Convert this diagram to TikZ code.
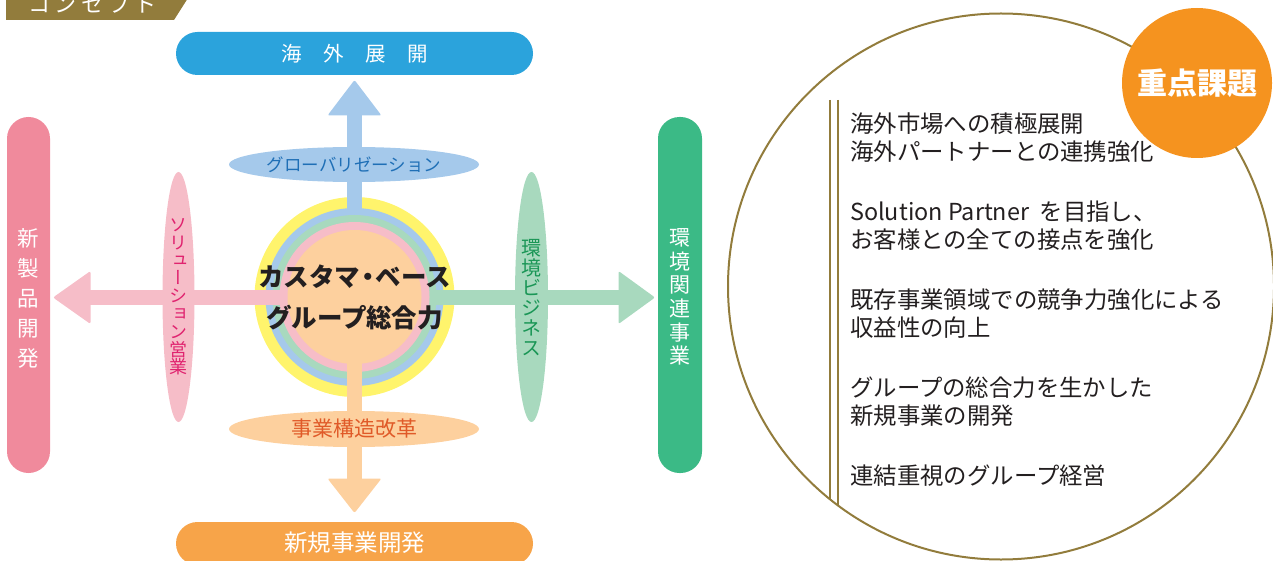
\documentclass[tikz,border=0pt]{standalone}
\usepackage{fontspec}
\setmainfont{Noto Sans CJK JP}
\newfontfamily\jp{Noto Sans CJK JP}
\newfontfamily\jpv[RawFeature=+vert]{Noto Sans CJK JP}
\usetikzlibrary{shapes.geometric}
\definecolor{olivec}{HTML}{927C3C}
\definecolor{ringY}{HTML}{FFF46C}
\definecolor{ringB}{HTML}{A5C9EB}
\definecolor{ringG}{HTML}{A8D9BE}
\definecolor{ringP}{HTML}{F6BDC8}
\definecolor{ringO}{HTML}{FDD09E}
\definecolor{barB}{HTML}{2BA3DC}
\definecolor{barO}{HTML}{F7A449}
\definecolor{barP}{HTML}{F08A9C}
\definecolor{barG}{HTML}{3BBA86}
\definecolor{circO}{HTML}{F5931F}
\definecolor{txtB}{HTML}{1F6FB6}
\definecolor{txtO}{HTML}{E05A28}
\definecolor{txtP}{HTML}{E0236F}
\definecolor{txtG}{HTML}{1A9656}
\definecolor{txtK}{HTML}{231F20}
\newcommand\fs[2]{\fontsize{#1}{#2}\selectfont}
\begin{document}
\begin{tikzpicture}[x=1pt,y=-1pt,
  pill/.style={rounded corners=21.5pt, inner sep=0pt, text=white},
  oval/.style={ellipse, inner sep=0pt},
  vtext/.style={align=center, inner sep=0pt},
  item/.style={anchor=west, inner sep=0pt, text=txtK, font=\jp\fs{23.4}{28}},
]
\useasboundingbox (0,0) rectangle (1273,561);
\clip (0,0) rectangle (1273,561);

% header tab
\fill[olivec] (6,-2) -- (188,-2) -- (174,20) -- (6,20) -- cycle;
\node[anchor=base, text=white, inner sep=0pt, font=\jp\fs{22}{22}] (tab) at (92.5,13)
  {コ\hspace{4.7pt}ン\hspace{4.7pt}セ\hspace{4.7pt}プ\hspace{4.7pt}ト};

% bars
\node[pill, fill=barB, minimum width=357pt, minimum height=43pt, font=\jp\fs{20.5}{20.5}] (kaigai) at (354.5,53.5)
  {海\hspace{21.5pt}外\hspace{21.5pt}展\hspace{21.5pt}開};
\node[pill, fill=barO, minimum width=357pt, minimum height=43pt] (shinki) at (354.5,543.5) {};
\node[text=white, inner sep=0pt, font=\jp\fs{23.5}{23.5}] (shinkit) at (354.5,543) {新規事業開発};
\node[pill, fill=barP, minimum width=43pt, minimum height=356pt] (seihin) at (28.5,295) {};
\node[vtext, text=white, font=\jpv\fs{21.5}{30}] (seihint) at (28.5,298) {新\\製\\品\\開\\発};
\node[pill, fill=barG, minimum width=44pt, minimum height=356pt] (kankyo) at (680,295) {};
\node[vtext, text=white, font=\jpv\fs{21}{23.6}] (kankyot) at (680,297) {環\\境\\関\\連\\事\\業};

% central rings
\coordinate (c) at (354.5,297);
\fill[ringY] (c) circle[radius=100];
\fill[ringB] (c) circle[radius=89];
\fill[ringG] (c) circle[radius=82];
\fill[ringP] (c) circle[radius=75];
\fill[ringO] (c) circle[radius=67];

% arrows
\coordinate (upb) at (354.5,115);
\coordinate (dnb) at (354.5,479);
\coordinate (lfb) at (90,297.5);
\coordinate (rtb) at (619,297.5);
\fill[ringB] (347,212) rectangle (362,115);
\fill[ringB, rounded corners=2pt] (327.5,115.5) -- (381.5,115.5) -- (354.5,80) -- cycle;
\fill[ringO] (347,290) rectangle (362,479);
\fill[ringO, rounded corners=2pt] (327.5,478.5) -- (381.5,478.5) -- (354.5,513) -- cycle;
\fill[ringP] (283,290) rectangle (89.5,305);
\fill[ringP, rounded corners=2pt] (90.5,271) -- (90.5,324) -- (53,297.5) -- cycle;
\fill[ringG] (434,290) rectangle (619.5,305);
\fill[ringG, rounded corners=2pt] (618.5,271) -- (618.5,324) -- (655,297.5) -- cycle;

% ellipses
\node[oval, fill=ringB, minimum width=250pt, minimum height=35pt, text=txtB, font=\jp\fs{17.5}{17.5}] (glob) at (354,164.5) {グローバリゼーション};
\node[oval, fill=ringO, minimum width=250pt, minimum height=36pt, text=txtO, font=\jp\fs{21}{21}] (kozo) at (354,429) {事業構造改革};
\node[oval, fill=ringP, minimum width=32pt, minimum height=250pt] (sol) at (178.5,297) {};
\node[vtext, text=txtP, font=\jpv\fs{18}{17.8}] (solt) at (178.5,297) {ソ\\リ\\ュ\\ー\\シ\\ョ\\ン\\営\\業};
\node[oval, fill=ringG, minimum width=33pt, minimum height=250pt] (env) at (531.5,297) {};
\node[vtext, text=txtG, font=\jpv\fs{20}{20}] (envt) at (531.5,298) {環\\境\\ビ\\ジ\\ネ\\ス};

% center text
\node[inner sep=0pt, text=txtK, font=\jp\bfseries\fs{25.5}{25.5}] (core1) at (354.5,277) {カスタマ\hspace{-5pt}・\hspace{-5pt}ベース};
\node[inner sep=0pt, text=txtK, font=\jp\bfseries\fs{25.5}{25.5}] (core2) at (354.5,318) {グループ総合力};

% right big circle
\coordinate (bc) at (1001,286.5);
\draw[olivec, line width=2pt] (bc) circle[radius=273];
\begin{scope}
  \clip (bc) circle[radius=273];
  \draw[olivec, line width=2pt] (830,100) -- (830,600);
  \draw[olivec, line width=2pt] (837.5,100) -- (837.5,600);
\end{scope}
\node[circle, fill=circO, minimum size=150pt, inner sep=0pt, text=white, font=\jp\bfseries\fs{30}{30}] (juten) at (1197,83) {重点課題};

% items
\node[item] (i1a) at (850,124) {海外市場への積極展開};
\node[item] (i1b) at (850,152) {海外パートナーとの連携強化};
\node[item] (i2a) at (850,212) {Solution Partner\ \ を目指し、};
\node[item] (i2b) at (850,240) {お客様との全ての接点を強化};
\node[item] (i3a) at (850,300) {既存事業領域での競争力強化による};
\node[item] (i3b) at (850,328) {収益性の向上};
\node[item] (i4a) at (850,388) {グループの総合力を生かした};
\node[item] (i4b) at (850,416) {新規事業の開発};
\node[item] (i5) at (850,476) {連結重視のグループ経営};
\end{tikzpicture}
\end{document}
